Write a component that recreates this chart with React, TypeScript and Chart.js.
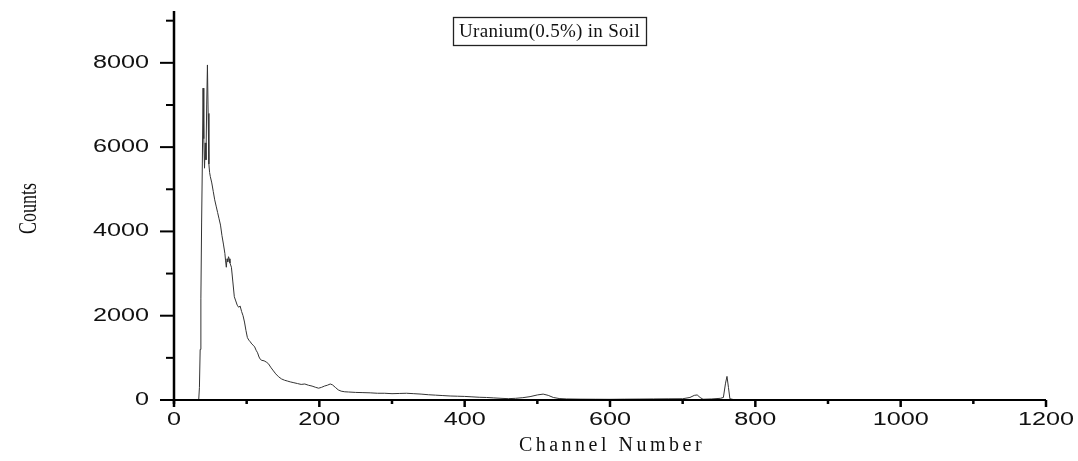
import React, { useEffect, useRef } from 'react';
import { Chart, registerables } from 'chart.js';

Chart.register(...registerables);

// Spectrum: channel numbers and counts
const channels = [
  0, 30, 34, 35, 36, 37, 38, 39, 40, 41, 42, 43, 44, 45, 46, 47, 48, 49, 50, 52,
  54, 56, 58, 60, 62, 64, 66, 68, 70, 71, 72, 73, 74, 75, 76, 77, 79, 81, 83, 85,
  87, 89, 91, 93, 95, 97, 99, 101, 103, 105, 107, 109, 111, 113, 115, 117, 119, 121, 124, 127,
  130, 133, 136, 140, 144, 148, 152, 156, 160, 165, 170, 175, 180, 185, 190, 195, 199, 203, 207, 211,
  215, 218, 222, 226, 230, 235, 240, 250, 260, 270, 280, 290, 300, 310, 320, 330, 340, 350, 360, 370,
  380, 390, 400, 410, 420, 430, 440, 450, 460, 470, 480, 490, 500, 508, 515, 522, 530, 540, 560, 580,
  600, 620, 640, 660, 680, 700, 710, 716, 720, 724, 728, 740, 752, 756, 759, 761, 763, 765, 770, 780,
];
const counts = [
  0, 0, 0, 300, 1200, 2400, 4200, 5600, 7400, 6200, 5500, 6100, 5700, 7000, 7950, 6800, 5600, 5400, 5300, 5150,
  4950, 4750, 4600, 4450, 4300, 4150, 3900, 3700, 3480, 3300, 3150, 3350, 3280, 3400, 3350, 3250, 3150, 2800, 2450, 2350,
  2250, 2200, 2230, 2100, 2000, 1850, 1650, 1480, 1420, 1380, 1330, 1300, 1260, 1180, 1120, 1020, 960, 940, 930, 900,
  860, 780, 710, 620, 550, 500, 470, 450, 430, 410, 390, 370, 380, 350, 330, 300, 280, 300, 330, 350,
  380, 360, 300, 240, 210, 195, 190, 180, 175, 170, 160, 160, 150, 155, 160, 150, 140, 125, 115, 105,
  95, 90, 85, 75, 65, 60, 50, 40, 32, 40, 55, 80, 120, 140, 110, 60, 35, 25, 20, 18,
  16, 20, 22, 25, 28, 30, 60, 110, 120, 60, 18, 25, 40, 60, 400, 560, 300, 30, 10, 0,
];

// Axis ticks and labels
const xMajorTicks = [0, 200, 400, 600, 800, 1000, 1200];
const xMinorTicks = [100, 300, 500, 700, 900, 1100];
const yMajorTicks = [0, 2000, 4000, 6000, 8000];
const yMinorTicks = [1000, 3000, 5000, 7000, 9000];
const xMin = 0;
const xMax = 1200;
const yMin = 0;
const yMax = 9230;

const titleText = 'Uranium(0.5%) in Soil';
const xAxisTitle = 'Channel Number';
const yAxisTitle = 'Counts';

const decorPlugin = {
  id: 'decor',
  afterDraw(chart: any) {
    const ctx: CanvasRenderingContext2D = chart.ctx;
    const xs = chart.scales.x;
    const ys = chart.scales.y;
    const area = chart.chartArea;
    ctx.save();
    ctx.strokeStyle = '#000';
    ctx.fillStyle = '#111';

    // axis lines
    ctx.lineWidth = 2.5;
    ctx.beginPath();
    ctx.moveTo(area.left, area.top);
    ctx.lineTo(area.left, area.bottom + 4);
    ctx.stroke();
    ctx.lineWidth = 2;
    ctx.beginPath();
    ctx.moveTo(area.left - 2, area.bottom);
    ctx.lineTo(area.right, area.bottom);
    ctx.stroke();

    // x ticks
    ctx.lineWidth = 2.5;
    xMajorTicks.forEach((v) => {
      const px = xs.getPixelForValue(v);
      ctx.beginPath();
      ctx.moveTo(px, area.bottom);
      ctx.lineTo(px, area.bottom + 7);
      ctx.stroke();
    });
    xMinorTicks.forEach((v) => {
      const px = xs.getPixelForValue(v);
      ctx.beginPath();
      ctx.moveTo(px, area.bottom);
      ctx.lineTo(px, area.bottom + 4);
      ctx.stroke();
    });
    // y ticks
    ctx.lineWidth = 2;
    yMajorTicks.forEach((v) => {
      const py = ys.getPixelForValue(v);
      ctx.beginPath();
      ctx.moveTo(area.left, py);
      ctx.lineTo(area.left - 14, py);
      ctx.stroke();
    });
    yMinorTicks.forEach((v) => {
      const py = ys.getPixelForValue(v);
      ctx.beginPath();
      ctx.moveTo(area.left, py);
      ctx.lineTo(area.left - 8, py);
      ctx.stroke();
    });

    // tick labels (wide sans)
    ctx.font = '18px "Liberation Sans", Arial, sans-serif';
    ctx.textBaseline = 'middle';
    xMajorTicks.forEach((v) => {
      const px = xs.getPixelForValue(v);
      ctx.save();
      ctx.translate(px, area.bottom + 20);
      ctx.scale(1.4, 1);
      ctx.textAlign = 'center';
      ctx.fillText(String(v), 0, 0);
      ctx.restore();
    });
    yMajorTicks.forEach((v) => {
      const py = ys.getPixelForValue(v);
      ctx.save();
      ctx.translate(area.left - 25, py);
      ctx.scale(1.4, 1);
      ctx.textAlign = 'right';
      ctx.fillText(String(v), 0, 0);
      ctx.restore();
    });

    // x axis title
    ctx.save();
    ctx.font = '20px "Liberation Serif", "Times New Roman", serif';
    (ctx as any).letterSpacing = '3.5px';
    ctx.textAlign = 'center';
    ctx.textBaseline = 'middle';
    ctx.fillText(xAxisTitle, (area.left + area.right) / 2 + 2, area.bottom + 46);
    ctx.restore();

    // y axis title (condensed, rotated)
    ctx.save();
    ctx.font = '25px "Liberation Serif", "Times New Roman", serif';
    ctx.translate(29, (area.top + area.bottom) / 2 + 3);
    ctx.rotate(-Math.PI / 2);
    ctx.scale(0.72, 1);
    ctx.textAlign = 'center';
    ctx.textBaseline = 'middle';
    ctx.fillText(yAxisTitle, 0, 0);
    ctx.restore();

    // title box
    ctx.save();
    ctx.font = '19px "Liberation Serif", "Times New Roman", serif';
    (ctx as any).letterSpacing = '0.3px';
    ctx.textAlign = 'center';
    ctx.textBaseline = 'middle';
    const tw = ctx.measureText(titleText).width;
    const cx = 549;
    const bw = tw + 12;
    ctx.lineWidth = 1.3;
    ctx.strokeStyle = '#222';
    ctx.strokeRect(Math.round(cx - bw / 2) + 0.5, 17.5, Math.round(bw), 28);
    ctx.fillText(titleText, cx + 0.5, 32);
    ctx.restore();

    ctx.restore();
  },
};

export default function App() {
  const canvasRef = useRef<HTMLCanvasElement | null>(null);

  useEffect(() => {
    if (!canvasRef.current) return;
    const chart = new Chart(canvasRef.current, {
      type: 'line',
      data: {
        datasets: [
          {
            label: 'Counts',
            data: channels.map((c, i) => ({ x: c, y: counts[i] })),
            borderColor: '#333333',
            borderWidth: 1,
            pointRadius: 0,
            tension: 0,
            fill: false,
          },
        ],
      },
      options: {
        animation: false,
        responsive: false,
        maintainAspectRatio: false,
        layout: { padding: { top: 11, right: 32, left: 0, bottom: 0 } },
        plugins: {
          legend: { display: false },
          tooltip: { enabled: false },
          title: { display: false },
        },
        scales: {
          x: {
            type: 'linear',
            min: xMin,
            max: xMax,
            grid: { display: false },
            border: { display: false },
            ticks: { display: false },
            afterFit: (scale: any) => {
              scale.height = 61;
            },
          },
          y: {
            type: 'linear',
            min: yMin,
            max: yMax,
            grid: { display: false },
            border: { display: false },
            ticks: { display: false },
            afterFit: (scale: any) => {
              scale.width = 174;
            },
          },
        },
      },
      plugins: [decorPlugin],
    });
    return () => chart.destroy();
  }, []);

  return (
    <div style={{ position: 'fixed', left: 0, top: 0, width: 1078, height: 461, background: '#fff' }}>
      <canvas ref={canvasRef} width={1078} height={461} style={{ display: 'block' }} />
    </div>
  );
}
